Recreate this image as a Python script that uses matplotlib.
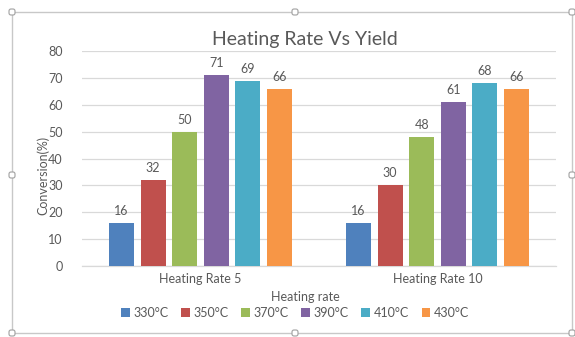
import matplotlib
matplotlib.use("Agg")
import matplotlib.pyplot as plt
from matplotlib.patches import Rectangle, FancyBboxPatch
import numpy as np

plt.rcParams['font.family'] = ['Lato', 'DejaVu Sans']

categories = ["Heating Rate 5", "Heating Rate 10"]
series_names = ["330°C", "350°C", "370°C", "390°C", "410°C", "430°C"]
values = [
    [16, 16],
    [32, 30],
    [50, 48],
    [71, 61],
    [69, 68],
    [66, 66],
]
colors = ["#4F81BD", "#C0504D", "#9BBB59", "#8064A2", "#4BACC6", "#F79646"]
y_ticks = [0, 10, 20, 30, 40, 50, 60, 70, 80]

text_gray = "#595959"
grid_gray = "#D9D9D9"

W, H = 575, 337
fig = plt.figure(figsize=(W / 100, H / 100), dpi=100)
fig.patch.set_facecolor("white")

# chart frame with resize handles
frame = fig.add_axes([0, 0, 1, 1])
frame.set_xlim(0, W)
frame.set_ylim(H, 0)
frame.axis("off")
frame.add_patch(Rectangle((12, 12), 560, 321, fill=False, ec="#C8C8C8", lw=1.0))
for hx, hy in [(12, 12), (295, 12), (572, 12), (12, 175), (572, 175),
               (12, 333), (295, 333), (572, 333)]:
    frame.add_patch(FancyBboxPatch((hx - 3, hy - 3), 6, 6,
                                   boxstyle="round,pad=0,rounding_size=2",
                                   fc="white", ec="#A0A0A0", lw=0.8, zorder=5))

ax = fig.add_axes([82 / W, 1 - 266 / H, (556 - 82) / W, (266 - 51) / H])
ax.set_facecolor("none")

x = np.arange(len(categories))
step = 0.133
width = 0.106
n = len(series_names)
for i, (name, vals, c) in enumerate(zip(series_names, values, colors)):
    xs = x + (i - (n - 1) / 2) * step
    bars = ax.bar(xs, vals, width=width, color=c, label=name, zorder=3)
    for xi, v in zip(xs, vals):
        ax.text(xi, v + 2.2, f"{v}", ha="center", va="bottom",
                fontsize=9, color=text_gray)

ax.set_xlim(-0.5, 1.5)
ax.set_ylim(0, 80)
ax.set_yticks(y_ticks)
ax.set_yticklabels([str(t) for t in y_ticks])
ax.set_xticks(x)
ax.set_xticklabels(categories)
ax.tick_params(axis="y", length=0, pad=14, labelsize=9, labelcolor=text_gray)
ax.tick_params(axis="x", length=0, pad=5, labelsize=9, labelcolor=text_gray)
ax.grid(axis="y", color=grid_gray, lw=0.9, zorder=0)
for s in ["top", "right", "left"]:
    ax.spines[s].set_visible(False)
ax.spines["bottom"].set_color(grid_gray)
ax.spines["bottom"].set_linewidth(0.9)

fig.text(305 / W, 1 - 40 / H, "Heating Rate Vs Yield", ha="center", va="center",
         fontsize=14, color=text_gray)
fig.text(43 / W, 1 - 175 / H, "Conversion(%)", ha="center", va="center",
         rotation=90, fontsize=9, color=text_gray)
fig.text(305 / W, 1 - 297 / H, "Heating rate", ha="center", va="center",
         fontsize=9, color=text_gray)

handles, labels = ax.get_legend_handles_labels()
leg = fig.legend(handles, labels, loc="center", bbox_to_anchor=(295 / W, 1 - 313 / H),
                 ncol=6, frameon=False, fontsize=9, handlelength=0.7, handleheight=0.7,
                 handletextpad=0.3, columnspacing=1.0)
for t in leg.get_texts():
    t.set_color(text_gray)

fig.savefig("out.png", dpi=100)
